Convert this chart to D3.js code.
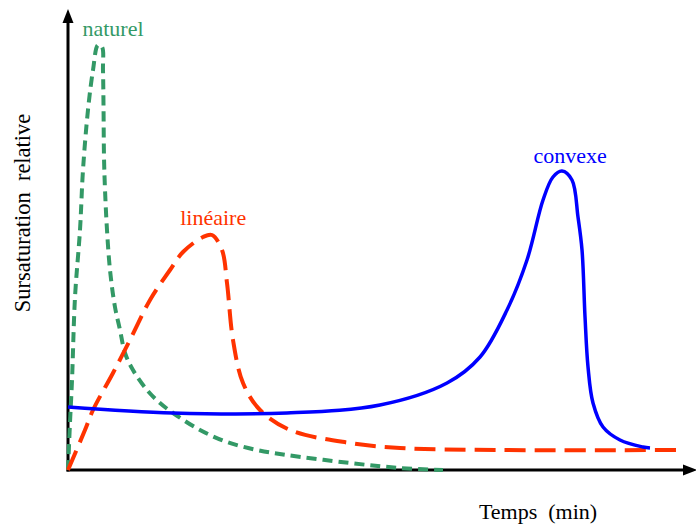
<!DOCTYPE html>
<html><head><meta charset="utf-8">
<script src="https://cdn.jsdelivr.net/npm/d3@7"></script>
<style>body{margin:0;background:#fff}svg{display:block}</style>
</head><body>
<svg id="c" width="696" height="526"></svg>
<script>
// Data (time in relative minutes, supersaturation in relative units)
const naturel = [[0,0],[0.33,11.75],[0.67,22.5],[1.17,43.25],[2,60],[2.5,75],[3.33,90],[4.17,100],[5,106.25],[5.67,105.75],[5.83,100],[5.92,90.75],[6,78.25],[6.17,70],[6.5,60],[7,50],[7.83,40.75],[8.67,35],[9.5,29.25],[10.83,25],[13.17,20],[15.33,16.75],[17.5,14.25],[22,10],[26.5,7],[31.5,5],[36.5,3.75],[47,1.75],[55.33,0.5],[62.5,0]];
const lineaire = [[0,0],[2.83,10],[4.17,15],[7.5,24.25],[10.33,32.5],[13.67,42.5],[17,50],[19.17,54.5],[22.5,58.25],[24,58.75],[25.67,55],[26.5,46.75],[27.5,32.5],[29.17,21.75],[32,15],[37,10],[47,6.75],[55.33,5.5],[72,5],[102,5]];
const convexe = [[0,15.75],[17.5,14.25],[36.5,14.25],[52,16.25],[63.17,21.75],[68.67,28.25],[73.17,40],[76.5,52.5],[79.17,67.5],[80.83,73.25],[82.33,74.75],[84,72.5],[85,63.25],[85.67,55],[86.17,38.25],[86.67,25.75],[87.5,16.75],[89.17,10.75],[92,7.5],[95.83,5.75],[97,5.5]];
const labels = ["naturel","linéaire","convexe"];
const axisLabels = ["Temps  (min)","Sursaturation  relative"];

const svg = d3.select("#c");
const x = d3.scaleLinear().domain([0,100]).range([68,668]);
const y = d3.scaleLinear().domain([0,100]).range([470,70]);
const line = d3.line().x(d=>x(d[0])).y(d=>y(d[1])).curve(d3.curveCatmullRom.alpha(0.5));
const font = "Liberation Serif, Times New Roman, serif";

const series = [
  {data:naturel, color:"#339966", dash:"10,6", w:4, label:labels[0], lx:7.5, ly:108.5},
  {data:lineaire, color:"#ff3300", dash:"21,9", w:4, label:labels[1], lx:24.2, ly:61.25},
  {data:convexe, color:"#0000ff", dash:null, w:3.5, label:labels[2], lx:83.7, ly:76.75}
];

// axes
const g = svg.append("g");
g.append("line").attr("x1",x(0)-1.5).attr("y1",y(0)).attr("x2",688).attr("y2",y(0)).attr("stroke","#000").attr("stroke-width",3);
g.append("line").attr("x1",x(0)).attr("y1",y(0)+1.5).attr("x2",x(0)).attr("y2",20).attr("stroke","#000").attr("stroke-width",3);
g.append("path").attr("d",`M${x(0)-5.5},23 L${x(0)},9 L${x(0)+5.5},23 Z`).attr("fill","#000");
g.append("path").attr("d",`M683,${y(0)-5.5} L697,${y(0)} L683,${y(0)+5.5} Z`).attr("fill","#000");

series.forEach(s=>{
  svg.append("path").attr("d",line(s.data)).attr("fill","none").attr("stroke",s.color)
    .attr("stroke-width",s.w).attr("stroke-dasharray",s.dash).attr("stroke-linejoin","round");
  svg.append("text").attr("x",x(s.lx)).attr("y",y(s.ly)).attr("text-anchor","middle")
    .attr("fill",s.color).attr("font-family",font).attr("font-size",22).text(s.label);
});

svg.append("text").attr("x",538).attr("y",519).attr("text-anchor","middle")
  .attr("font-family",font).attr("font-size",22).attr("fill","#000").style("white-space","pre").text(axisLabels[0]);
svg.append("text").attr("transform","translate(30,213) rotate(-90)").attr("text-anchor","middle")
  .attr("font-family",font).attr("font-size",22.5).attr("fill","#000").style("white-space","pre").text(axisLabels[1]);
</script>
</body></html>
